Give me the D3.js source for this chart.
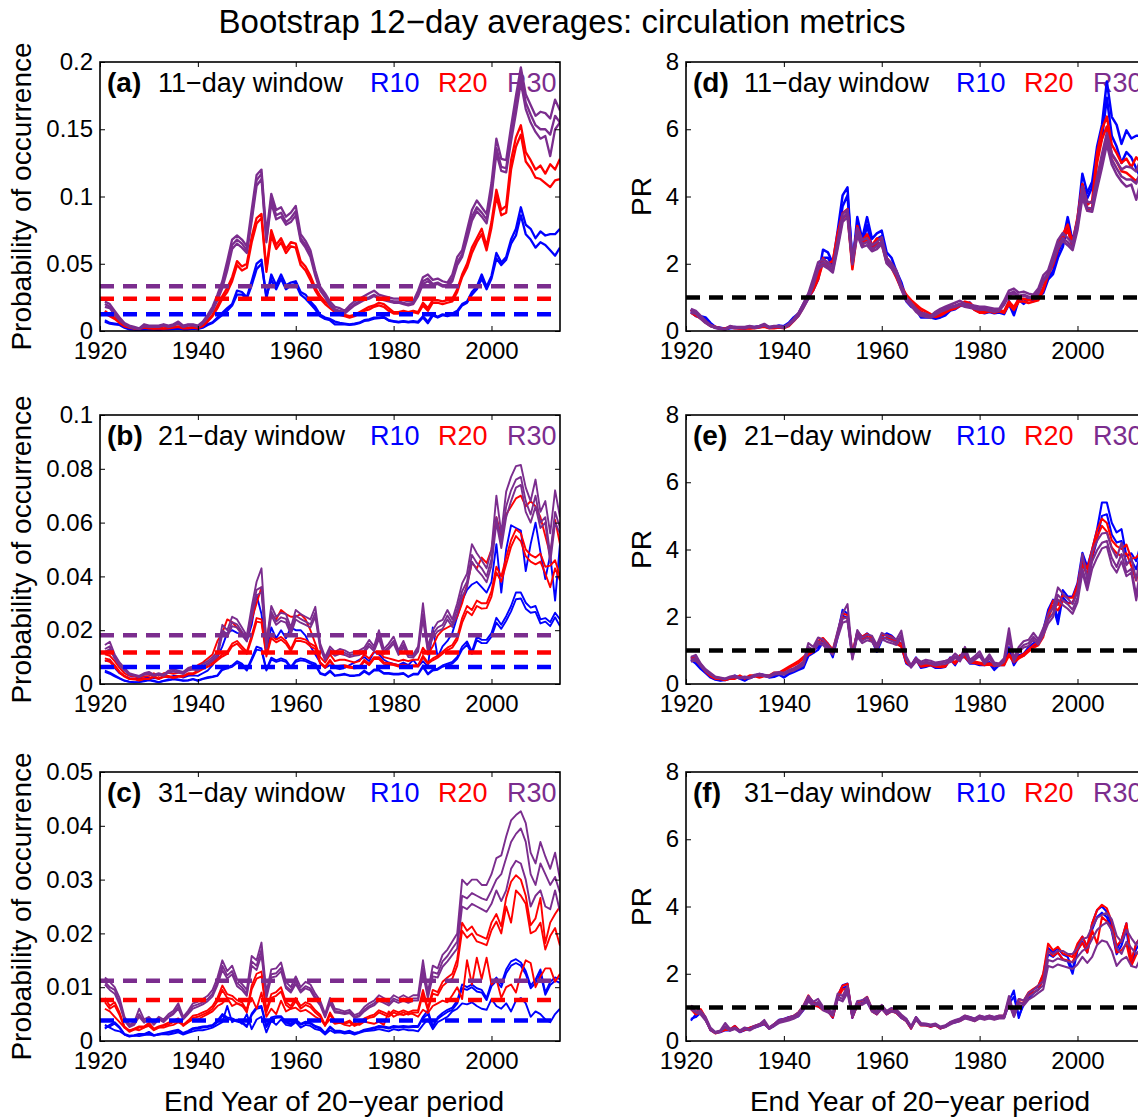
<!DOCTYPE html>
<html>
<head>
<meta charset="utf-8">
<script src="https://cdn.jsdelivr.net/npm/d3@7"></script>
<style>
  body { margin: 0; background: #fff; }
  text { font-family: "Liberation Sans", Arial, Helvetica, sans-serif; }
</style>
</head>
<body>
<svg id="chart" width="1138" height="1117"></svg>
<script>
// end years of the 20-year periods
const years = d3.range(1921, 2015);

const seriesNames = ["R10", "R20", "R30"];
const windows = ["11−day window", "21−day window", "31−day window"];
const probTags = ["(a)", "(b)", "(c)"];
const prTags = ["(d)", "(e)", "(f)"];

const ticksA = [0, 0.05, 0.1, 0.15, 0.2];
const ticksB = [0, 0.02, 0.04, 0.06, 0.08, 0.1];
const ticksC = [0, 0.01, 0.02, 0.03, 0.04, 0.05];
const ticksPR = [0, 2, 4, 6, 8];

// climatological probability (dashed lines), R10 / R20 / R30
const baseA = [0.0124, 0.0240, 0.0333];
const baseB = [0.0063, 0.0117, 0.0181];
const baseC = [0.0038, 0.0076, 0.0112];

// ---- panel (a), 11-day window ----
const a_r10_1 = [.008,.006,.0055,.005,.003,.0015,.0012,.0008,.0012,.0015,
  .0012,.001,.0015,.0015,.0018,.002,.0015,.0015,.002,.0018,
  .003,.005,.0065,.010,.0135,.017,.020,.030,.029,.025,
  .037,.050,.053,.024,.042,.034,.042,.034,.036,.037,
  .029,.027,.022,.018,.012,.010,.009,.007,.006,.0055,
  .005,.0055,.0062,.008,.0087,.0099,.0099,.0105,.008,.0074,
  .0068,.0074,.0068,.0074,.0068,.011,.0068,.0124,.0105,.0124,
  .0118,.013,.015,.020,.022,.029,.033,.042,.033,.041,
  .058,.051,.055,.068,.076,.092,.079,.076,.069,.074,
  .071,.072,.072,.076];
const a_r10_2 = [.007,.0055,.005,.0045,.0025,.0012,.001,.0006,.001,.0012,
  .001,.0009,.0012,.0012,.0015,.0017,.0012,.0013,.0017,.0015,
  .0025,.0045,.006,.009,.012,.015,.019,.027,.027,.024,
  .034,.046,.050,.026,.038,.031,.039,.031,.034,.035,
  .027,.024,.020,.016,.011,.009,.008,.005,.005,.005,
  .0045,.005,.0058,.0075,.008,.0092,.0095,.010,.0078,.007,
  .0065,.007,.0065,.0068,.0062,.010,.0058,.0115,.010,.0118,
  .011,.0125,.014,.019,.021,.027,.031,.039,.031,.039,
  .054,.049,.053,.065,.071,.086,.072,.068,.062,.066,
  .064,.060,.056,.062];
const a_r20_1 = [.015,.012,.010,.007,.004,.003,.002,.0018,.003,.0025,
  .002,.0025,.002,.0025,.003,.0035,.0025,.0025,.003,.0025,
  .004,.008,.012,.019,.026,.032,.040,.052,.048,.050,
  .070,.084,.087,.046,.075,.064,.069,.061,.066,.065,
  .052,.048,.041,.032,.026,.022,.019,.016,.014,.012,
  .011,.012,.014,.016,.018,.019,.021,.020,.017,.014,
  .014,.015,.014,.015,.014,.021,.017,.023,.023,.022,
  .023,.024,.031,.042,.050,.062,.069,.076,.063,.081,
  .105,.090,.093,.127,.144,.153,.133,.127,.120,.123,
  .117,.124,.120,.128];
const a_r20_2 = [.013,.011,.009,.006,.0035,.0025,.0018,.0015,.0025,.002,
  .0018,.002,.0018,.002,.0025,.003,.002,.002,.0025,.002,
  .0035,.007,.011,.017,.024,.029,.037,.049,.045,.047,
  .066,.080,.084,.044,.071,.061,.066,.058,.063,.062,
  .049,.045,.038,.030,.024,.020,.017,.014,.012,.011,
  .010,.011,.013,.015,.016,.018,.019,.018,.015,.013,
  .013,.014,.013,.014,.013,.019,.015,.021,.021,.020,
  .021,.022,.029,.040,.047,.058,.066,.072,.060,.077,
  .100,.086,.088,.120,.137,.146,.126,.121,.114,.113,
  .110,.107,.112,.113];
const a_r30_1 = [.022,.020,.015,.010,.006,.004,.003,.002,.005,.004,
  .004,.004,.005,.004,.005,.007,.004,.005,.005,.004,
  .007,.012,.018,.027,.037,.052,.068,.071,.068,.063,
  .090,.116,.120,.072,.102,.090,.092,.085,.088,.093,
  .072,.067,.060,.045,.033,.028,.022,.018,.017,.015,
  .019,.022,.024,.026,.028,.030,.027,.026,.025,.024,
  .024,.023,.022,.022,.030,.040,.042,.038,.039,.037,
  .036,.042,.055,.060,.075,.090,.097,.092,.087,.110,
  .143,.128,.127,.152,.175,.196,.176,.168,.160,.163,
  .162,.158,.172,.164];
const a_r30_2 = [.020,.018,.013,.009,.005,.0035,.0025,.0015,.004,.0035,
  .0035,.0035,.0045,.0035,.0045,.006,.0035,.0045,.0045,.0035,
  .006,.011,.016,.025,.034,.048,.064,.068,.065,.060,
  .085,.112,.117,.068,.098,.086,.088,.081,.084,.089,
  .069,.064,.057,.043,.031,.026,.020,.016,.015,.014,
  .017,.020,.022,.024,.025,.027,.025,.024,.023,.022,
  .022,.021,.020,.021,.027,.037,.039,.035,.036,.034,
  .034,.039,.051,.057,.071,.085,.092,.088,.083,.104,
  .136,.122,.121,.146,.168,.190,.170,.161,.153,.150,
  .150,.146,.160,.155];
const a_r30_3 = [.018,.017,.012,.008,.005,.003,.002,.0015,.0035,.003,
  .003,.003,.004,.003,.004,.0055,.003,.004,.004,.003,
  .0055,.010,.015,.023,.032,.045,.061,.065,.062,.058,
  .082,.108,.113,.066,.095,.083,.085,.079,.081,.086,
  .067,.062,.055,.041,.030,.025,.019,.015,.014,.013,
  .016,.019,.021,.023,.024,.026,.024,.023,.022,.021,
  .021,.020,.019,.020,.026,.035,.037,.034,.035,.033,
  .033,.037,.049,.055,.068,.082,.089,.085,.080,.100,
  .132,.119,.118,.141,.162,.185,.165,.155,.148,.143,
  .145,.130,.150,.155];

// ---- panel (b), 21-day window ----
const b_r10_1 = [.0050,.0042,.0032,.0022,.0013,.0009,.0007,.0008,.0012,.0016,
  .0012,.0007,.0012,.0016,.0019,.0017,.0013,.0014,.0019,.0013,
  .0020,.0025,.0028,.0032,.0057,.0063,.0069,.0085,.0076,.0054,
  .0095,.0139,.0132,.0054,.0098,.0088,.0095,.0088,.0063,.0088,
  .0095,.0091,.0082,.0076,.0041,.0035,.0050,.0032,.0035,.0038,
  .0032,.0032,.0035,.0050,.0038,.0054,.0054,.0041,.0041,.0038,
  .0038,.0041,.0028,.0038,.0038,.0069,.0038,.0054,.0057,.0069,
  .0076,.0082,.0101,.0139,.0158,.0120,.0176,.0164,.0164,.0189,
  .0246,.0220,.0252,.0290,.0340,.0340,.0302,.0284,.0290,.0240,
  .0245,.0230,.0265,.0240];
const b_r10_2 = [.0045,.0038,.0028,.0020,.0012,.0008,.0006,.0007,.0010,.0014,
  .0010,.0006,.0011,.0014,.0017,.0015,.0012,.0013,.0017,.0012,
  .0018,.0022,.0026,.0030,.0052,.0058,.0064,.0078,.0070,.0050,
  .0088,.0128,.0124,.0050,.0091,.0082,.0088,.0082,.0060,.0082,
  .0088,.0085,.0076,.0070,.0038,.0032,.0046,.0030,.0032,.0035,
  .0030,.0030,.0032,.0046,.0035,.0050,.0050,.0038,.0038,.0035,
  .0035,.0038,.0026,.0035,.0035,.0062,.0035,.0050,.0053,.0064,
  .0070,.0076,.0094,.0128,.0146,.0112,.0163,.0152,.0152,.0176,
  .0228,.0205,.0235,.0270,.0315,.0318,.0280,.0265,.0268,.0225,
  .0232,.0215,.0248,.0215];
const b_r10_x = [.0085,.0090,.0060,.0040,.0030,.0022,.0020,.0020,.0022,.0024,
  .0022,.0020,.0028,.0024,.0030,.0030,.0024,.0030,.0032,.0030,
  .0040,.0050,.0070,.0100,.0140,.0190,.0200,.0190,.0185,.0160,
  .0220,.0330,.0260,.0120,.0210,.0170,.0200,.0170,.0210,.0200,
  .0200,.0180,.0140,.0110,.0080,.0060,.0070,.0060,.0055,.0060,
  .0070,.0080,.0090,.0100,.0085,.0120,.0110,.0090,.0080,.0075,
  .0070,.0080,.0070,.0090,.0065,.0085,.0065,.0210,.0100,.0140,
  .0160,.0190,.0250,.0310,.0350,.0370,.0380,.0360,.0340,.0380,
  .0520,.0340,.0500,.0590,.0580,.0570,.0420,.0520,.0600,.0490,
  .0390,.0480,.0310,.0520];
const b_r20_1 = [.0095,.0090,.0070,.0046,.0030,.0020,.0020,.0015,.0020,.0020,
  .0030,.0020,.0030,.0030,.0025,.0030,.0030,.0040,.0040,.0050,
  .0060,.0070,.0080,.0095,.0110,.0120,.0150,.0160,.0140,.0120,
  .0180,.0245,.0240,.0110,.0180,.0165,.0175,.0160,.0130,.0170,
  .0170,.0165,.0150,.0140,.0080,.0065,.0090,.0065,.0068,.0070,
  .0065,.0062,.0065,.0090,.0075,.0100,.0100,.0080,.0078,.0075,
  .0070,.0072,.0068,.0070,.0070,.0105,.0080,.0095,.0105,.0120,
  .0135,.0145,.0175,.0245,.0290,.0275,.0310,.0300,.0300,.0345,
  .0436,.0400,.0470,.0535,.0575,.0560,.0500,.0480,.0470,.0485,
  .0436,.0440,.0460,.0400];
const b_r20_2 = [.0088,.0082,.0064,.0042,.0027,.0018,.0017,.0013,.0018,.0018,
  .0026,.0018,.0026,.0027,.0022,.0027,.0027,.0036,.0036,.0045,
  .0055,.0064,.0073,.0088,.0102,.0112,.0140,.0150,.0130,.0112,
  .0168,.0232,.0228,.0102,.0170,.0155,.0165,.0150,.0122,.0160,
  .0160,.0155,.0140,.0130,.0075,.0060,.0084,.0060,.0063,.0065,
  .0060,.0058,.0060,.0084,.0070,.0093,.0093,.0075,.0072,.0070,
  .0065,.0067,.0063,.0065,.0065,.0098,.0075,.0088,.0098,.0112,
  .0126,.0135,.0163,.0228,.0270,.0256,.0290,.0280,.0282,.0325,
  .0415,.0380,.0445,.0510,.0550,.0530,.0475,.0455,.0445,.0455,
  .0410,.0360,.0430,.0385];
const b_r20_x = [.0110,.0105,.0085,.0060,.0040,.0030,.0028,.0022,.0028,.0030,
  .0040,.0030,.0040,.0042,.0038,.0042,.0044,.0055,.0058,.0070,
  .0080,.0095,.0110,.0160,.0190,.0240,.0230,.0210,.0190,.0170,
  .0240,.0300,.0360,.0160,.0260,.0240,.0275,.0260,.0250,.0250,
  .0260,.0240,.0200,.0150,.0100,.0080,.0110,.0085,.0090,.0090,
  .0085,.0080,.0085,.0110,.0095,.0120,.0120,.0100,.0095,.0090,
  .0085,.0090,.0085,.0090,.0090,.0135,.0110,.0140,.0180,.0200,
  .0210,.0220,.0250,.0300,.0370,.0450,.0430,.0470,.0450,.0500,
  .0620,.0550,.0630,.0660,.0690,.0700,.0660,.0680,.0660,.0620,
  .0550,.0480,.0610,.0520];
const b_r30_1 = [.0145,.0157,.0110,.0080,.0060,.0040,.0035,.0030,.0040,.0045,
  .0035,.0040,.0035,.0050,.0055,.0050,.0045,.0060,.0065,.0060,
  .0075,.0085,.0100,.0120,.0220,.0200,.0250,.0240,.0210,.0180,
  .0287,.0380,.0430,.0150,.0290,.0250,.0265,.0260,.0210,.0275,
  .0260,.0250,.0240,.0287,.0150,.0100,.0139,.0120,.0130,.0125,
  .0115,.0120,.0125,.0135,.0164,.0140,.0200,.0130,.0150,.0176,
  .0125,.0160,.0115,.0110,.0139,.0300,.0139,.0200,.0230,.0238,
  .0275,.0240,.0300,.0374,.0410,.0520,.0486,.0460,.0430,.0500,
  .0700,.0560,.0715,.0770,.0810,.0814,.0730,.0680,.0760,.0640,
  .0680,.0560,.0720,.0620];
const b_r30_2 = [.0130,.0140,.0100,.0072,.0054,.0036,.0032,.0028,.0036,.0040,
  .0032,.0036,.0032,.0045,.0050,.0045,.0040,.0055,.0058,.0055,
  .0068,.0078,.0092,.0110,.0200,.0185,.0230,.0222,.0195,.0168,
  .0265,.0350,.0360,.0140,.0270,.0232,.0248,.0242,.0195,.0255,
  .0242,.0232,.0222,.0265,.0140,.0094,.0128,.0112,.0120,.0116,
  .0107,.0112,.0116,.0125,.0150,.0130,.0180,.0120,.0138,.0160,
  .0116,.0146,.0107,.0104,.0128,.0260,.0128,.0185,.0210,.0220,
  .0255,.0225,.0280,.0345,.0380,.0480,.0450,.0430,.0400,.0465,
  .0620,.0530,.0660,.0720,.0760,.0770,.0680,.0630,.0700,.0600,
  .0620,.0480,.0640,.0580];
const b_r30_3 = [.0120,.0130,.0095,.0068,.0050,.0034,.0030,.0026,.0034,.0037,
  .0030,.0034,.0030,.0042,.0046,.0042,.0037,.0050,.0054,.0050,
  .0064,.0072,.0086,.0102,.0185,.0175,.0215,.0210,.0182,.0158,
  .0250,.0330,.0340,.0132,.0255,.0220,.0235,.0228,.0185,.0240,
  .0228,.0220,.0210,.0250,.0132,.0088,.0120,.0105,.0112,.0108,
  .0100,.0105,.0108,.0118,.0140,.0122,.0168,.0112,.0130,.0150,
  .0108,.0136,.0100,.0098,.0120,.0240,.0120,.0172,.0196,.0205,
  .0240,.0212,.0262,.0325,.0360,.0455,.0425,.0405,.0378,.0440,
  .0600,.0505,.0620,.0680,.0730,.0740,.0640,.0600,.0660,.0580,
  .0600,.0450,.0600,.0560];

// ---- panel (c), 31-day window ----
const c_r10_1 = [.0023,.0030,.0035,.0026,.0013,.0010,.0011,.0013,.0013,.0017,
  .0011,.0013,.0015,.0017,.0019,.0021,.0015,.0019,.0024,.0025,
  .0027,.0028,.0030,.0038,.0050,.0044,.0042,.0038,.0036,.0028,
  .0051,.0063,.0065,.0028,.0044,.0046,.0046,.0036,.0032,.0040,
  .0032,.0036,.0034,.0028,.0025,.0015,.0027,.0019,.0019,.0017,
  .0019,.0015,.0017,.0021,.0023,.0025,.0028,.0027,.0025,.0028,
  .0027,.0028,.0027,.0028,.0028,.0045,.0057,.0026,.0044,.0052,
  .0058,.0062,.0075,.0105,.0100,.0105,.0098,.0095,.0080,.0108,
  .0118,.0106,.0133,.0148,.0152,.0146,.0130,.0103,.0114,.0133,
  .0090,.0110,.0118,.0115];
const c_r10_2 = [.0025,.0027,.0032,.0024,.0012,.0009,.0010,.0012,.0012,.0015,
  .0010,.0012,.0014,.0015,.0017,.0019,.0014,.0017,.0022,.0023,
  .0025,.0026,.0028,.0035,.0047,.0041,.0039,.0036,.0034,.0026,
  .0048,.0060,.0062,.0026,.0041,.0043,.0044,.0034,.0030,.0038,
  .0030,.0034,.0032,.0026,.0023,.0014,.0025,.0018,.0018,.0016,
  .0018,.0014,.0016,.0020,.0021,.0023,.0026,.0025,.0023,.0026,
  .0025,.0026,.0025,.0026,.0026,.0042,.0050,.0028,.0041,.0048,
  .0054,.0058,.0070,.0098,.0095,.0100,.0092,.0090,.0076,.0102,
  .0112,.0100,.0126,.0140,.0145,.0140,.0124,.0098,.0108,.0126,
  .0086,.0104,.0112,.0108];
const c_r10_x = [.0030,.0025,.0020,.0018,.0012,.0008,.0010,.0009,.0011,.0012,
  .0010,.0012,.0013,.0012,.0014,.0016,.0012,.0015,.0018,.0020,
  .0020,.0022,.0025,.0030,.0035,.0065,.0035,.0040,.0032,.0050,
  .0022,.0040,.0045,.0016,.0038,.0030,.0040,.0030,.0028,.0035,
  .0025,.0030,.0028,.0022,.0020,.0012,.0020,.0015,.0016,.0014,
  .0015,.0012,.0015,.0018,.0019,.0020,.0022,.0020,.0018,.0022,
  .0020,.0022,.0020,.0020,.0018,.0030,.0040,.0022,.0035,.0040,
  .0045,.0055,.0060,.0070,.0068,.0072,.0065,.0060,.0058,.0078,
  .0065,.0060,.0070,.0055,.0075,.0080,.0070,.0045,.0055,.0050,
  .0040,.0035,.0050,.0060];
const c_r20_1 = [.0080,.0065,.0072,.0053,.0027,.0019,.0023,.0027,.0027,.0034,
  .0023,.0027,.0030,.0034,.0038,.0042,.0030,.0038,.0047,.0049,
  .0053,.0057,.0065,.0080,.0103,.0087,.0084,.0076,.0072,.0057,
  .0103,.0125,.0129,.0057,.0087,.0091,.0100,.0072,.0065,.0080,
  .0065,.0072,.0068,.0057,.0049,.0030,.0053,.0038,.0038,.0034,
  .0038,.0030,.0034,.0042,.0046,.0049,.0057,.0053,.0049,.0057,
  .0053,.0057,.0053,.0057,.0057,.0095,.0061,.0095,.0091,.0110,
  .0118,.0125,.0152,.0220,.0205,.0213,.0198,.0194,.0190,.0220,
  .0236,.0213,.0266,.0296,.0308,.0300,.0270,.0215,.0228,.0266,
  .0182,.0220,.0236,.0250];
const c_r20_2 = [.0072,.0060,.0066,.0048,.0025,.0017,.0021,.0025,.0025,.0031,
  .0021,.0025,.0028,.0031,.0035,.0039,.0028,.0035,.0043,.0045,
  .0049,.0053,.0060,.0074,.0095,.0080,.0078,.0070,.0067,.0053,
  .0096,.0116,.0120,.0053,.0080,.0084,.0092,.0067,.0060,.0074,
  .0060,.0067,.0063,.0053,.0045,.0028,.0049,.0035,.0035,.0032,
  .0035,.0028,.0032,.0039,.0043,.0045,.0053,.0049,.0045,.0053,
  .0049,.0053,.0049,.0053,.0053,.0088,.0057,.0088,.0085,.0102,
  .0110,.0116,.0140,.0205,.0192,.0200,.0185,.0182,.0178,.0206,
  .0222,.0200,.0250,.0220,.0280,.0270,.0255,.0200,.0205,.0220,
  .0170,.0195,.0210,.0177];
const c_r20_x = [.0060,.0055,.0045,.0035,.0025,.0020,.0022,.0020,.0025,.0028,
  .0020,.0025,.0025,.0028,.0030,.0035,.0030,.0035,.0040,.0040,
  .0045,.0050,.0055,.0065,.0070,.0080,.0065,.0070,.0065,.0060,
  .0080,.0060,.0090,.0045,.0060,.0050,.0075,.0055,.0060,.0062,
  .0055,.0058,.0052,.0045,.0040,.0030,.0040,.0032,.0034,.0030,
  .0028,.0034,.0030,.0036,.0034,.0032,.0036,.0030,.0055,.0045,
  .0050,.0048,.0052,.0050,.0045,.0058,.0052,.0065,.0070,.0075,
  .0072,.0085,.0100,.0078,.0150,.0105,.0155,.0115,.0155,.0105,
  .0115,.0080,.0100,.0105,.0090,.0125,.0150,.0145,.0100,.0120,
  .0135,.0135,.0110,.0125];
const c_r30_1 = [.0118,.0110,.0100,.0080,.0045,.0030,.0035,.0060,.0040,.0045,
  .0035,.0045,.0040,.0050,.0056,.0070,.0045,.0056,.0070,.0073,
  .0078,.0084,.0095,.0118,.0150,.0130,.0140,.0115,.0106,.0095,
  .0158,.0150,.0183,.0090,.0133,.0135,.0146,.0110,.0100,.0120,
  .0100,.0110,.0105,.0088,.0075,.0050,.0080,.0060,.0058,.0055,
  .0058,.0048,.0052,.0063,.0070,.0075,.0085,.0080,.0075,.0085,
  .0080,.0085,.0080,.0085,.0085,.0150,.0090,.0140,.0135,.0160,
  .0170,.0185,.0200,.0300,.0290,.0300,.0300,.0290,.0290,.0310,
  .0340,.0345,.0380,.0410,.0420,.0427,.0405,.0350,.0330,.0370,
  .0343,.0320,.0350,.0300];
const c_r30_2 = [.0110,.0100,.0095,.0072,.0040,.0028,.0032,.0050,.0036,.0042,
  .0032,.0042,.0037,.0046,.0052,.0064,.0042,.0052,.0065,.0068,
  .0072,.0078,.0088,.0110,.0140,.0122,.0130,.0108,.0100,.0088,
  .0148,.0140,.0170,.0084,.0124,.0126,.0136,.0102,.0094,.0112,
  .0094,.0102,.0098,.0082,.0070,.0046,.0074,.0056,.0054,.0052,
  .0054,.0045,.0048,.0058,.0065,.0070,.0079,.0075,.0070,.0079,
  .0075,.0079,.0075,.0079,.0079,.0135,.0084,.0128,.0125,.0148,
  .0158,.0172,.0185,.0270,.0265,.0275,.0270,.0265,.0262,.0280,
  .0300,.0310,.0340,.0370,.0385,.0395,.0370,.0310,.0290,.0330,
  .0310,.0290,.0305,.0275];
const c_r30_3 = [.0105,.0095,.0088,.0068,.0038,.0026,.0030,.0045,.0034,.0040,
  .0030,.0040,.0035,.0044,.0050,.0060,.0040,.0050,.0060,.0064,
  .0068,.0074,.0083,.0104,.0132,.0116,.0124,.0102,.0095,.0084,
  .0140,.0132,.0160,.0080,.0118,.0120,.0130,.0098,.0090,.0106,
  .0090,.0098,.0094,.0078,.0066,.0044,.0070,.0053,.0052,.0050,
  .0052,.0043,.0046,.0055,.0062,.0066,.0075,.0071,.0066,.0075,
  .0071,.0075,.0071,.0075,.0075,.0125,.0080,.0120,.0118,.0138,
  .0148,.0160,.0172,.0250,.0245,.0255,.0250,.0245,.0240,.0255,
  .0280,.0260,.0280,.0320,.0335,.0330,.0300,.0250,.0270,.0280,
  .0250,.0245,.0280,.0240];

// lines that enter the probability ratio, and additional bootstrap lines shown only on the left
const panelsData = [
  { tag: probTags[0], prTag: prTags[0], win: windows[0], yMax: 0.2, ticks: ticksA, base: baseA,
    lines: [[a_r10_1, a_r10_2], [a_r20_1, a_r20_2], [a_r30_1, a_r30_2, a_r30_3]],
    extra: [[], [], []] },
  { tag: probTags[1], prTag: prTags[1], win: windows[1], yMax: 0.1, ticks: ticksB, base: baseB,
    lines: [[b_r10_1, b_r10_2], [b_r20_1, b_r20_2], [b_r30_1, b_r30_2, b_r30_3]],
    extra: [[b_r10_x], [b_r20_x], []] },
  { tag: probTags[2], prTag: prTags[2], win: windows[2], yMax: 0.05, ticks: ticksC, base: baseC,
    lines: [[c_r10_1, c_r10_2], [c_r20_1, c_r20_2], [c_r30_1, c_r30_2, c_r30_3]],
    extra: [[c_r10_x], [c_r20_x], []] }
];

const colors = ["#0000ff", "#ff0000", "#7b2d8e"];
const W = 460, H = 269;
const colX = [100, 686];
const rowY = [62, 415, 772];
const lineW = [2.3, 1.9, 1.9];

const svg = d3.select("#chart");

svg.append("text")
  .attr("x", 562).attr("y", 33)
  .attr("text-anchor", "middle")
  .attr("font-size", 33)
  .text("Bootstrap 12−day averages: circulation metrics");

function drawPanel(left, top, yMax, ticks, tag, win, colored, dashed, lw) {
  const g = svg.append("g").attr("transform", `translate(${left},${top})`);
  const x = d3.scaleLinear().domain([1920, 2014]).range([0, W]);
  const y = d3.scaleLinear().domain([0, yMax]).range([H, 0]);

  // in-panel label, drawn under the lines
  const lab = g.append("g").attr("font-size", 27);
  lab.append("text").attr("x", 7).attr("y", 30).attr("font-weight", "bold")
    .attr("font-size", 28).text(tag);
  lab.append("text").attr("x", 58).attr("y", 30).text(win);
  seriesNames.forEach((s, i) => {
    lab.append("text").attr("x", [270, 338, 407][i]).attr("y", 30)
      .attr("fill", colors[i]).text(s);
  });

  const clipId = "clip" + left + "_" + top;
  g.append("clipPath").attr("id", clipId)
    .append("rect").attr("width", W).attr("height", H);

  const line = d3.line().x((d, i) => x(years[i])).y(d => y(d));
  const plot = g.append("g").attr("clip-path", `url(#${clipId})`);
  colored.forEach((set, i) => {
    set.forEach(arr => {
      plot.append("path").datum(arr)
        .attr("d", line)
        .attr("fill", "none")
        .attr("stroke", colors[i])
        .attr("stroke-width", lw)
        .attr("stroke-linejoin", "round");
    });
  });

  dashed.forEach(dl => {
    plot.append("line")
      .attr("x1", 0).attr("x2", x(2014))
      .attr("y1", y(dl.v)).attr("y2", y(dl.v))
      .attr("stroke", dl.c)
      .attr("stroke-width", 4.5)
      .attr("stroke-dasharray", "14,9");
  });

  // axes: MATLAB style box, ticks pointing inward on all sides
  const xt = [1920, 1940, 1960, 1980, 2000];
  const styleAxis = a => {
    a.select(".domain").remove();
    a.selectAll("line").attr("stroke", "#000").attr("stroke-width", 1);
    a.selectAll("text").attr("font-size", 24).attr("fill", "#000")
      .attr("font-family", '"Liberation Sans", Arial, sans-serif');
  };
  g.append("g").attr("transform", `translate(0,${H})`)
    .call(d3.axisBottom(x).tickValues(xt).tickFormat(d3.format("d"))
      .tickSizeInner(-5).tickSizeOuter(0).tickPadding(11))
    .call(styleAxis);
  g.append("g")
    .call(d3.axisTop(x).tickValues(xt).tickFormat("").tickSizeInner(-5).tickSizeOuter(0))
    .call(styleAxis);
  g.append("g")
    .call(d3.axisLeft(y).tickValues(ticks).tickFormat(d => String(d))
      .tickSizeInner(-5).tickSizeOuter(0).tickPadding(7))
    .call(styleAxis);
  g.append("g").attr("transform", `translate(${W},0)`)
    .call(d3.axisRight(y).tickValues(ticks).tickFormat("").tickSizeInner(-5).tickSizeOuter(0))
    .call(styleAxis);

  g.append("rect").attr("width", W).attr("height", H)
    .attr("fill", "none").attr("stroke", "#000").attr("stroke-width", 1.6);
}

panelsData.forEach((p, r) => {
  // left: probability of occurrence, all bootstrap lines
  const leftSets = p.lines.map((set, i) => set.concat(p.extra[i]));
  drawPanel(colX[0], rowY[r], p.yMax, p.ticks, p.tag, p.win, leftSets,
    p.base.map((v, i) => ({ v: v, c: colors[i] })), lineW[r]);

  // right: probability ratio relative to the climatological probability
  const prSets = p.lines.map((set, i) => set.map(arr => arr.map(v => v / p.base[i])));
  drawPanel(colX[1], rowY[r], 8, ticksPR, p.prTag, p.win, prSets,
    [{ v: 1, c: "#000" }], lineW[r] + 0.2);

  svg.append("text")
    .attr("transform", `translate(31,${rowY[r] + H / 2}) rotate(-90)`)
    .attr("text-anchor", "middle").attr("font-size", 28)
    .text("Probability of occurrence");
  svg.append("text")
    .attr("transform", `translate(651,${rowY[r] + H / 2}) rotate(-90)`)
    .attr("text-anchor", "middle").attr("font-size", 28)
    .text("PR");
});

[colX[0], colX[1]].forEach(cx => {
  svg.append("text")
    .attr("x", cx + 234).attr("y", 1111)
    .attr("text-anchor", "middle").attr("font-size", 28)
    .text("End Year of 20−year period");
});
</script>
</body>
</html>
